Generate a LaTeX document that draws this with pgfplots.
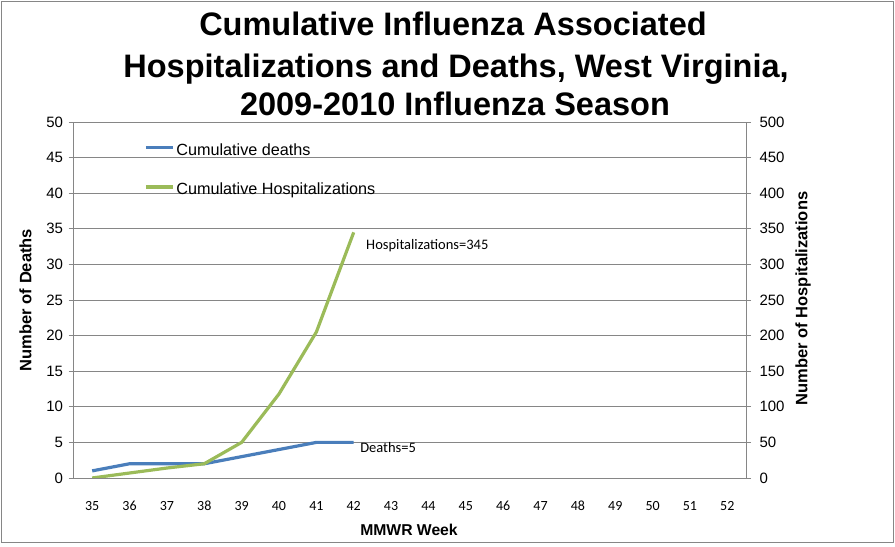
\documentclass[border=0pt]{standalone}
\usepackage{pgfplots}
\pgfplotsset{compat=1.18}
\usepackage{fontspec}
\setmainfont{Liberation Sans}
\newfontfamily\calibri{Carlito}
\definecolor{dblue}{HTML}{4A7EBB}
\definecolor{hgreen}{HTML}{9BBB59}
\definecolor{axgray}{HTML}{868686}
\begin{document}
\begin{tikzpicture}[x=1bp,y=1bp]
\useasboundingbox (0,0) rectangle (895,547);
\draw[axgray,line width=1bp] (1.5,4) rectangle (893,545.5);
\pgfplotsset{
  common/.style={
    scale only axis, width=672.5bp, height=356bp,
    at={(73.5bp,69bp)}, anchor=south west,
    xmin=34.5, xmax=52.5,
    axis line style={axgray, line width=0.8bp},
    tick style={axgray, line width=0.8bp},
    major tick length=5bp,
    tick align=outside,
    /pgf/number format/assume math mode=true,
  }
}
\begin{axis}[common,
  ymin=0, ymax=50, ytick={0,5,...,50},
  axis y line*=left, axis x line*=bottom,
  xtick={35,...,52},
  xticklabel style={font=\calibri\fontsize{14bp}{14bp}\selectfont, anchor=base, yshift=-28bp},
  major x tick style={draw=none},
  extra x ticks={34.5,35.5,...,52.5}, extra x tick labels={},
  extra x tick style={major tick length=5bp, tick style={axgray}},
  ymajorgrids, grid style={axgray, line width=0.8bp},
  yticklabel style={font=\fontsize{15bp}{15bp}\selectfont, xshift=-2bp},
  legend style={draw=none, fill=none, at={(rel axis cs:0.1048,0.941)}, anchor=north west,
    font=\fontsize{16.2bp}{16.2bp}\selectfont, row sep=23.3bp, inner sep=0pt,
    nodes={inner sep=0pt, text height=12bp, text depth=4bp}},
  legend cell align=left,
  legend image code/.code={\draw[#1, line width=3.2bp] (0,3.5bp) -- (27bp,3.5bp);},
]
\addplot[dblue, line width=3.2bp] coordinates {(35,1) (36,2) (37,2) (38,2) (39,3) (40,4) (41,5) (42,5)};
\addlegendentry{\hspace{2bp}Cumulative deaths}
\addlegendimage{hgreen, line width=3.2bp}
\addlegendentry{\hspace{2bp}Cumulative Hospitalizations}
\node[anchor=west, inner sep=0pt, font=\calibri\fontsize{14.5bp}{14.5bp}\selectfont] at (axis cs:42.17,4.35) {Deaths=5};
\end{axis}
\begin{axis}[common,
  ymin=0, ymax=500, ytick={0,50,...,500},
  axis y line*=right, axis x line=none,
  yticklabel style={font=\fontsize{15bp}{15bp}\selectfont, xshift=5bp},
]
\addplot[hgreen, line width=3.2bp] coordinates {(35,0) (36,7) (37,14) (38,20) (39,50) (40,118) (41,205) (42,345)};
\node[anchor=west, inner sep=0pt, font=\calibri\fontsize{14.5bp}{14.5bp}\selectfont] at (axis cs:42.33,326) {Hospitalizations=345};
\end{axis}
\node[rotate=90, font=\bfseries\fontsize{16.5bp}{16.5bp}\selectfont] at (25.5,247) {Number of Deaths};
\node[rotate=90, font=\bfseries\fontsize{16.5bp}{16.5bp}\selectfont] at (803,248.5) {Number of Hospitalizations};
\node[anchor=base, font=\bfseries\fontsize{15.7bp}{15.7bp}\selectfont] at (409,11.5) {MMWR Week};
\begin{scope}[font=\bfseries\fontsize{32.5bp}{32.5bp}\selectfont]
\node[anchor=base, inner sep=0] at (453,511) {Cumulative Influenza Associated};
\node[anchor=base, inner sep=0] at (456,469.5) {Hospitalizations and Deaths, West Virginia,};
\node[anchor=base, inner sep=0] at (455,431) {2009-2010 Influenza Season};
\end{scope}
\end{tikzpicture}
\end{document}
